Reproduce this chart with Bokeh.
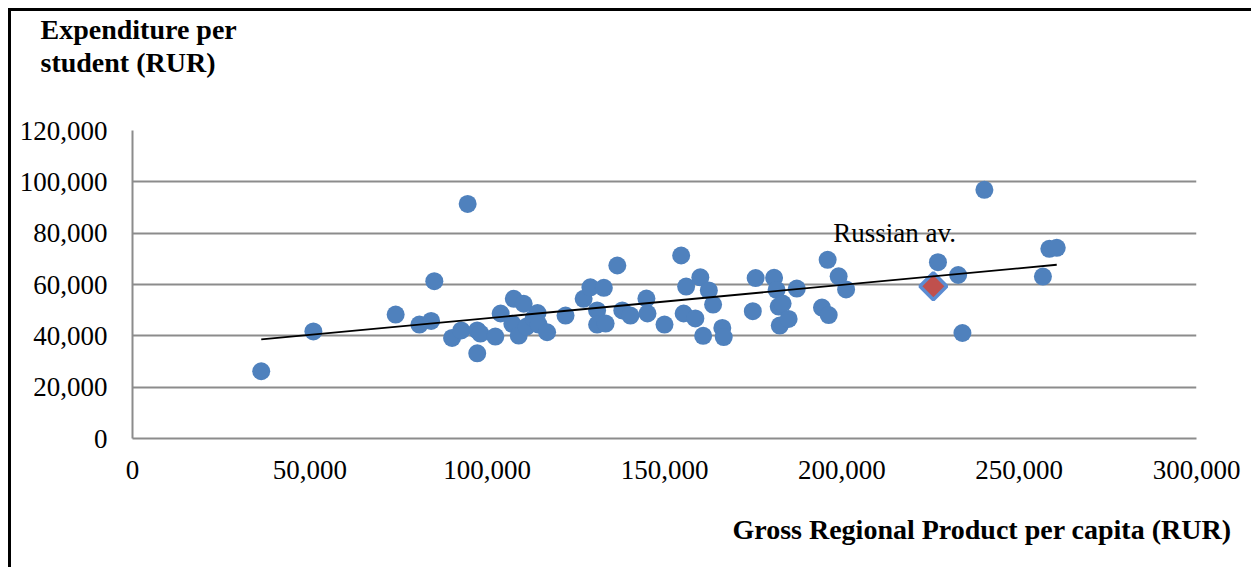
import math
from bokeh.plotting import figure
from bokeh.models import Range1d, NumeralTickFormatter, Label, FixedTicker, Title
from bokeh.embed import file_html
from bokeh.resources import INLINE

# Gross Regional Product per capita (RUR) and expenditure per student (RUR), by region
grp = [36300, 51000, 74200, 80900, 84200, 85100, 90100, 92700, 94500, 97200,
       97200, 98100, 102300, 103800, 107500, 107100, 108900, 110300, 111100, 113100,
       114200, 114500, 116900, 122100, 127200, 129100, 132900, 131000, 131000, 133400,
       136700, 138100, 140400, 144900, 145200, 150000, 154700, 156100, 155400, 158700,
       160100, 160900, 162500, 163700, 166300, 166700, 174900, 175700, 180900, 181600,
       182200, 183300, 182500, 185000, 187300, 194400, 196000, 196300, 199100, 201200,
       227100, 232800, 234000, 240200, 256700, 258500, 260600]
expenditure = [26200, 41700, 48300, 44400, 45800, 61300, 39200, 42100, 91400, 33200,
               42100, 40900, 39700, 48700, 54400, 44700, 40100, 52500, 43600, 46800,
               48900, 44400, 41400, 47900, 54400, 58900, 58700, 49900, 44400, 44800,
               67400, 49900, 47900, 54500, 48700, 44400, 71300, 59200, 48700, 46800,
               62800, 40000, 57700, 52200, 43100, 39500, 49600, 62500, 62600, 57900,
               51400, 52600, 44000, 46600, 58400, 51000, 69600, 48100, 63200, 58100,
               68700, 63700, 41100, 96900, 63100, 73900, 74300]

# Russian average
avg_grp = [225800]
avg_expenditure = [59300]
avg_label = "Russian av."

# Linear trend line end points
trend_x = [36300, 260600]
trend_y = [38600, 67700]

x_ticks = [0, 50000, 100000, 150000, 200000, 250000, 300000]
y_ticks = [0, 20000, 40000, 60000, 80000, 100000, 120000]

x_title = "Gross Regional Product per capita (RUR)"
y_title = ["Expenditure per", "student (RUR)"]

SERIF = "Liberation Serif"

p = figure(
    frame_width=1064, frame_height=308,
    min_border_left=121, min_border_right=55,
    min_border_top=119, min_border_bottom=129,
    x_range=Range1d(0, 300000), y_range=Range1d(0, 120000),
    output_backend="svg", toolbar_location=None,
    background_fill_color="white", border_fill_color="white",
)
p.styles = {"border-left": "3px solid black", "border-top": "3px solid black",
            "margin-left": "8px", "margin-top": "8px"}
p.outline_line_color = None

# axes
for ax in (p.xaxis[0], p.yaxis[0]):
    ax.formatter = NumeralTickFormatter(format="0,0")
    ax.major_tick_line_color = None
    ax.minor_tick_line_color = None
    ax.major_tick_in = 0
    ax.major_tick_out = 0
    ax.minor_tick_in = 0
    ax.minor_tick_out = 0
    ax.axis_line_color = "#8c8c8c"
    ax.axis_line_width = 2
    ax.major_label_text_font = SERIF
    ax.major_label_text_font_size = "27px"
    ax.major_label_text_color = "black"
p.xaxis[0].ticker = FixedTicker(ticks=x_ticks)
p.yaxis[0].ticker = FixedTicker(ticks=y_ticks)
p.xaxis[0].major_label_standoff = 22
p.yaxis[0].major_label_standoff = 25

p.xgrid.grid_line_color = None
p.ygrid.ticker = FixedTicker(ticks=y_ticks)
p.ygrid.grid_line_color = "#8c8c8c"
p.ygrid.grid_line_width = 2

# points
p.scatter(grp, expenditure, size=18, fill_color="#4F81BD", line_color=None)
p.scatter(avg_grp, avg_expenditure, marker="square", angle=math.pi / 4, size=19,
          fill_color="#C0504D", line_color="#5B8CD2", line_width=3.5)
p.line(trend_x, trend_y, line_color="black", line_width=1.8)

# texts
p.add_layout(Label(x=197600, y=80000, text=avg_label, text_font=SERIF,
                   text_font_size="27px", text_color="black",
                   text_baseline="alphabetic", text_align="left"))

p.title.text = y_title[0]
p.title.align = "left"
p.title.offset = -92
p.title.standoff = 0
p.title.text_font = SERIF
p.title.text_font_style = "bold"
p.title.text_font_size = "28px"
p.title.text_color = "black"

# spacer between the frame and the second title line
p.add_layout(Title(text=" ", align="left", standoff=20, text_font=SERIF,
                   text_font_size="28px"), "above")
p.add_layout(Title(text=y_title[1], align="left", offset=-92, standoff=0,
                   text_font=SERIF, text_font_style="bold", text_font_size="28px",
                   text_color="black"), "above")

p.add_layout(Title(text=x_title, align="right", offset=-35, standoff=60,
                   text_font=SERIF, text_font_style="bold", text_font_size="28px",
                   text_color="black"), "below")

open("out.html", "w").write(file_html(p, INLINE))
